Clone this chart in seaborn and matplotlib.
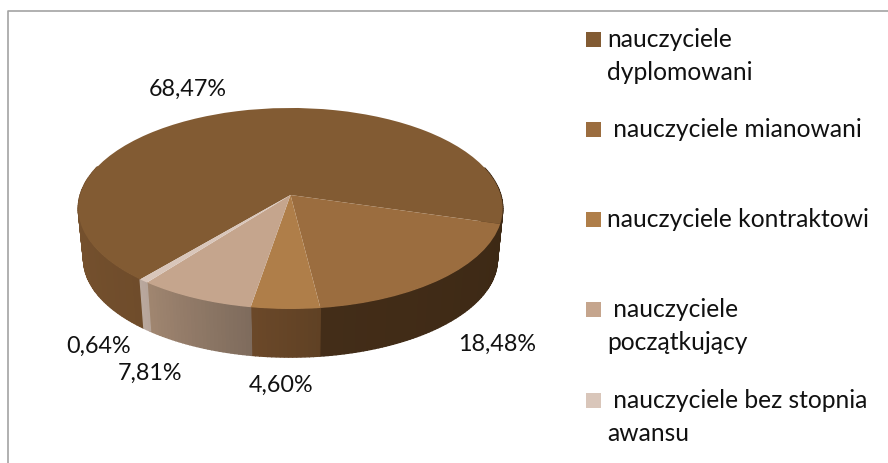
import numpy as np
import seaborn as sns
import matplotlib.pyplot as plt
from matplotlib.patches import Rectangle
from matplotlib.transforms import Transform

categories = ['nauczyciele dyplomowani', 'nauczyciele mianowani', 'nauczyciele kontraktowi',
              'nauczyciele początkujący', 'nauczyciele bez stopnia awansu']
values = [68.47, 18.48, 4.60, 7.81, 0.64]
legend_lines = [['nauczyciele', 'dyplomowani'], [' nauczyciele mianowani'], ['nauczyciele kontraktowi'],
                [' nauczyciele', 'początkujący'], [' nauczyciele bez stopnia', 'awansu']]
top_colors = ['#825b33', '#9b6d3f', '#af7e49', '#c5a58d', '#d9c6ba']
wall_colors = [('#6f4c2b', '#7a5530'), ('#432d18', '#3d2915'), ('#6b4829', '#5f4124'),
               ('#a08670', '#7d6a5c'), ('#b9a89d', '#b5a399')]

# posicion de las etiquetas y de la leyenda, en pixeles
label_pos = [(188, 89), (497, 344), (281, 385), (150, 373), (99, 346)]
legend_base = [47, 137, 227, 317, 408]

CX, CY, A, B, K = 290.5, 195.0, 98.7, 210.3, 0.134


class Tilt(Transform):
    """Pasa el circulo unidad del pie a la elipse en perspectiva."""
    input_dims = 2
    output_dims = 2

    def transform_non_affine(self, xy):
        xy = np.asarray(xy, dtype=float)
        s = 1 + K * xy[:, 1]
        return np.column_stack([CX + B * xy[:, 0] / s, CY - A * xy[:, 1] / s])


def rim(t):
    u, v = np.cos(np.radians(t)), np.sin(np.radians(t))
    top = Tilt().transform_non_affine(np.column_stack([u, v]))
    low = np.column_stack([CX + (top[:, 0] - CX) * 0.975, CY + (top[:, 1] - CY) * 0.975 + 51])
    return top, low


sns.set_theme(style='white')
plt.rcParams['font.family'] = ['Lato', 'DejaVu Sans']

fig = plt.figure(figsize=(8.88, 4.63), dpi=100)
ax = fig.add_axes([0, 0, 1, 1])

wedges, _ = ax.pie(values, colors=top_colors, startangle=230.1, counterclock=False,
                   wedgeprops={'edgecolor': 'none', 'linewidth': 0})
ax.set_aspect('auto')
ax.set_xlim(0, 888)
ax.set_ylim(463, 0)
ax.axis('off')

for i, w in enumerate(wedges):
    w.set_transform(Tilt() + ax.transData)
    w.set_zorder(3)
    t = np.append(np.arange(w.theta1, w.theta2, 1.0), w.theta2)
    t = t[np.sin(np.radians(t)) < 0.3]
    # la primera porcion tiene dos tramos de pared: derecha e izquierda
    groups = [t[t < 90], t[t > 90]] if i == 0 else [t]
    for g in groups:
        if len(g) < 2:
            continue
        if i == 0 and g[0] < 90:
            pal = [wall_colors[1][1]] * len(g)
        else:
            pal = sns.blend_palette(wall_colors[i], len(g))
            if g[0] > 90:
                pal = pal[::-1]
        top, low = rim(g)
        for j in range(len(g) - 1):
            quad = np.vstack([top[j:j + 2], low[j:j + 2][::-1]])
            ax.fill(quad[:, 0], quad[:, 1], facecolor=pal[j], edgecolor=pal[j], lw=1.0, zorder=2)

for v, (x, y) in zip(values, label_pos):
    ax.text(x, y, f'{v:.2f}%'.replace('.', ','), ha='center', va='center', fontsize=16.8, color='#111111', zorder=4)

for color, lines, y in zip(top_colors, legend_lines, legend_base):
    ax.add_patch(Rectangle((586, y - 15), 15, 15, facecolor=color, edgecolor='none'))
    for n, line in enumerate(lines):
        ax.text(607, y + n * 33, line, ha='left', va='baseline', fontsize=17.7, color='#111111')

# marco del grafico (solo arriba e izquierda)
ax.plot([8, 8, 888], [463, 10.5, 10.5], color='#a3a3a3', lw=1.2, clip_on=False)

fig.savefig('out.png', dpi=100)
plt.close(fig)
